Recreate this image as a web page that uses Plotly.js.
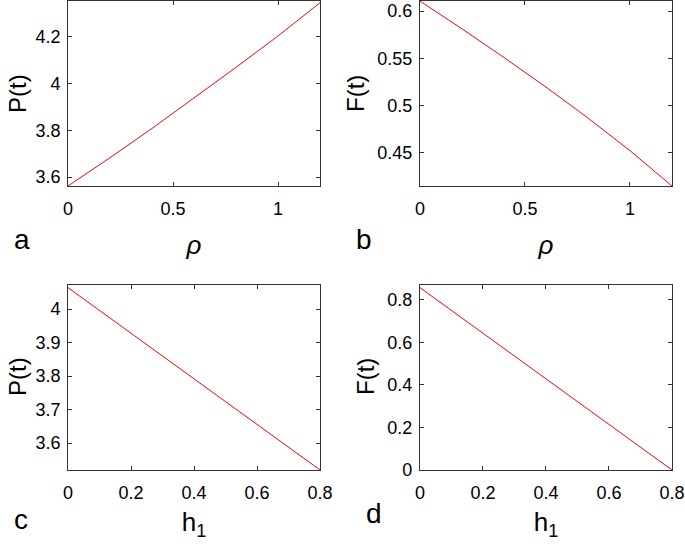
<!DOCTYPE html>
<html>
<head>
<meta charset="utf-8">
<script src="https://cdn.plot.ly/plotly-3.0.1.min.js"></script>
<style>
  body { margin: 0; padding: 0; background: #fff; }
  #chart { width: 685px; height: 549px; }
</style>
</head>
<body>
<div id="chart"></div>
<script>
// values
const rho = [0, 0.2, 0.4, 0.6, 0.8, 1.0, 1.2];
const pRho = [3.562, 3.683, 3.808, 3.937, 4.069, 4.203, 4.345];
const fRho = [0.6106, 0.5812, 0.5508, 0.5194, 0.4866, 0.4520, 0.4145];

const h1 = [0, 0.2, 0.4, 0.6, 0.8];
const pH1 = [4.064, 3.928, 3.792, 3.656, 3.520];
const fH1 = [0.858, 0.6435, 0.429, 0.2145, 0];

const lineStyle = { color: '#ff0000', width: 1 };

const traces = [
  { x: rho, y: pRho, xaxis: 'x', yaxis: 'y' },
  { x: rho, y: fRho, xaxis: 'x2', yaxis: 'y2' },
  { x: h1, y: pH1, xaxis: 'x3', yaxis: 'y3' },
  { x: h1, y: fH1, xaxis: 'x4', yaxis: 'y4' }
].map(t => Object.assign(t, { type: 'scatter', mode: 'lines', line: lineStyle, hoverinfo: 'none' }));

const fam = 'Liberation Sans, Arial, sans-serif';
const tickFont = { family: fam, size: 18, color: '#000' };
const titleFont = { family: fam, size: 26, color: '#000' };
const yTitleFont = { family: fam, size: 24, color: '#000' };

// shared look of every axis: box, short ticks inside
function ax(extra) {
  return Object.assign({
    showgrid: false,
    zeroline: false,
    showline: true,
    mirror: 'ticks',
    linecolor: '#333',
    linewidth: 1,
    ticks: 'inside',
    ticklen: 4,
    tickcolor: '#333',
    tickfont: tickFont,
    fixedrange: true
  }, extra);
}

const leftDom = [0.0993, 0.4672];
const rightDom = [0.6131, 0.981];
const topDom = [0.6612, 0.998];
const botDom = [0.1439, 0.4809];

// y titles are placed by hand: plotly keeps them inside the (zero) margin
const yTitles = [
  { text: 'P(t)', x: 17 / 685, y: 1 - 94 / 549 },
  { text: 'F(t)', x: 355 / 685, y: 1 - 94 / 549 },
  { text: 'P(t)', x: 17 / 685, y: 1 - 377 / 549 },
  { text: 'F(t)', x: 365 / 685, y: 1 - 377 / 549 }
].map(a => Object.assign(a, { textangle: -90, font: yTitleFont }));

const letters = [
  { text: 'a', x: 22 / 685, y: 1 - 239 / 549 },
  { text: 'b', x: 364 / 685, y: 1 - 239 / 549 },
  { text: 'c', x: 21 / 685, y: 1 - 519 / 549 },
  { text: 'd', x: 374 / 685, y: 1 - 513 / 549 }
].map(a => Object.assign(a, { font: { family: fam, size: 28, color: '#000' } }));

const layout = {
  width: 685,
  height: 549,
  margin: { l: 0, r: 0, t: 0, b: 0 },
  paper_bgcolor: '#fff',
  plot_bgcolor: '#fff',
  showlegend: false,
  font: tickFont,

  xaxis: ax({ domain: leftDom, anchor: 'y', range: [0, 1.2], tickvals: [0, 0.5, 1], ticklabelstandoff: 6,
    title: { text: '<i>ρ</i>', font: titleFont, standoff: 18 } }),
  yaxis: ax({ domain: topDom, anchor: 'x', range: [3.562, 4.352], tickvals: [3.6, 3.8, 4, 4.2], ticklabelstandoff: 3 }),

  xaxis2: ax({ domain: rightDom, anchor: 'y2', range: [0, 1.2], tickvals: [0, 0.5, 1], ticklabelstandoff: 6,
    title: { text: '<i>ρ</i>', font: titleFont, standoff: 18 } }),
  yaxis2: ax({ domain: topDom, anchor: 'x2', range: [0.4145, 0.6106], tickvals: [0.45, 0.5, 0.55, 0.6], ticklabelstandoff: 3 }),

  xaxis3: ax({ domain: leftDom, anchor: 'y3', range: [0, 0.8], tickvals: [0, 0.2, 0.4, 0.6, 0.8], ticklabelstandoff: 6,
    title: { text: 'h<sub>1</sub>', font: titleFont, standoff: 11 } }),
  yaxis3: ax({ domain: botDom, anchor: 'x3', range: [3.52, 4.072], tickvals: [3.6, 3.7, 3.8, 3.9, 4], ticklabelstandoff: 3 }),

  xaxis4: ax({ domain: rightDom, anchor: 'y4', range: [0, 0.8], tickvals: [0, 0.2, 0.4, 0.6, 0.8], ticklabelstandoff: 6,
    title: { text: 'h<sub>1</sub>', font: titleFont, standoff: 11 } }),
  yaxis4: ax({ domain: botDom, anchor: 'x4', range: [0, 0.8706], tickvals: [0, 0.2, 0.4, 0.6, 0.8], ticklabelstandoff: 3 }),

  annotations: yTitles.concat(letters).map(a => Object.assign(a, {
    xref: 'paper', yref: 'paper', showarrow: false,
    xanchor: 'center', yanchor: 'middle'
  }))
};

Plotly.newPlot('chart', traces, layout, { staticPlot: true, displayModeBar: false });
</script>
</body>
</html>
